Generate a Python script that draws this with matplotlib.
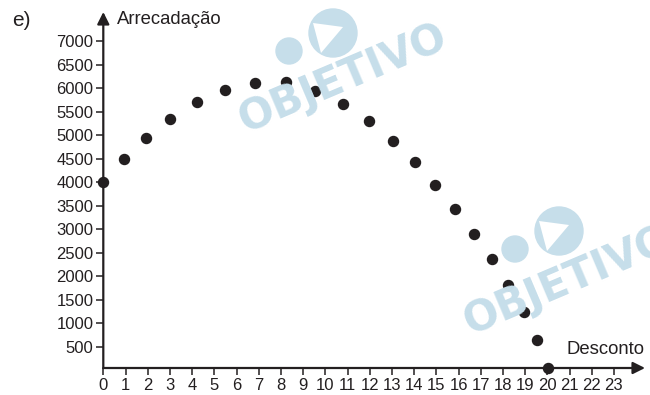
import matplotlib
matplotlib.use('Agg')
import matplotlib.pyplot as plt
from matplotlib.patches import Ellipse, Polygon

plt.rcParams['font.family'] = ['Liberation Sans', 'DejaVu Sans']

desconto = [0, 0.93, 1.92, 3.02, 4.2, 5.48, 6.85, 8.22, 9.55, 10.78, 11.95,
            13.04, 14.03, 14.96, 15.86, 16.7, 17.5, 18.24, 18.94, 19.55, 20.05]
arrecadacao = [4000, 4485, 4945, 5350, 5705, 5960, 6115, 6125, 5945, 5670, 5300,
               4875, 4420, 3940, 3435, 2910, 2370, 1810, 1245, 655, 60]
x_ticks = list(range(0, 24))
y_ticks = list(range(500, 7001, 500))

ink = '#231f20'
wm = '#c6deea'

W, H = 650, 395
fig = plt.figure(figsize=(W / 100, H / 100), dpi=100)
ax = fig.add_axes([103.3 / W, (H - 368) / H, (645 - 103.3) / W, (368 - 12) / H])
ax.patch.set_alpha(0)


def fx(px):
    return px / W


def fy(py):
    return 1 - py / H


# watermarks (behind everything)
def watermark(cx, cy, tx, ty):
    big = Ellipse((fx(cx), fy(cy)), 2 * 24 / W, 2 * 24 / H, transform=fig.transFigure,
                  color=wm, zorder=0)
    small = Ellipse((fx(cx - 44), fy(cy + 18)), 2 * 13 / W, 2 * 13 / H,
                    transform=fig.transFigure, color=wm, zorder=0)
    tri = Polygon([(fx(cx - 20), fy(cy - 10)), (fx(cx + 10), fy(cy - 6)),
                   (fx(cx - 12), fy(cy + 20))], closed=True, transform=fig.transFigure,
                  facecolor='white', edgecolor='none', zorder=0.5)
    for p in (big, small, tri):
        fig.patches.append(p)
    fig.text(fx(tx), fy(ty), 'OBJETIVO', color=wm, fontsize=30, fontweight='bold',
             family='DejaVu Sans', rotation=23, ha='center', va='center',
             rotation_mode='anchor', zorder=0)


watermark(333, 33, 343, 78)
watermark(559, 231, 568, 280)

ax.scatter(desconto, arrecadacao, s=52, color=ink, zorder=5, clip_on=False)

ax.set_xlim(0, 24.4)
ax.set_ylim(50, 7620)
for s in ax.spines.values():
    s.set_visible(False)

ax.annotate('', xy=(1, 0), xytext=(0, 0), xycoords='axes fraction',
            arrowprops=dict(arrowstyle='-|>', color=ink, lw=1.6, mutation_scale=18,
                            shrinkA=0, shrinkB=0))
ax.annotate('', xy=(0, 1), xytext=(0, 0), xycoords='axes fraction',
            arrowprops=dict(arrowstyle='-|>', color=ink, lw=1.6, mutation_scale=18,
                            shrinkA=0, shrinkB=0))

ax.set_xticks(x_ticks)
ax.set_xticklabels([str(v) for v in x_ticks])
ax.set_yticks(y_ticks)
ax.set_yticklabels([str(v) for v in y_ticks])
ax.tick_params(axis='both', direction='out', length=5, width=1.1, color=ink,
               labelcolor=ink, labelsize=12, pad=2)

fig.text(fx(117), fy(19), 'Arrecadação', fontsize=13.3, color=ink, ha='left', va='center')
fig.text(fx(645), fy(349), 'Desconto', fontsize=13.3, color=ink, ha='right', va='center')
fig.text(fx(12), fy(21), 'e)', fontsize=15, color=ink, ha='left', va='center')

fig.savefig('out.png', dpi=100)
